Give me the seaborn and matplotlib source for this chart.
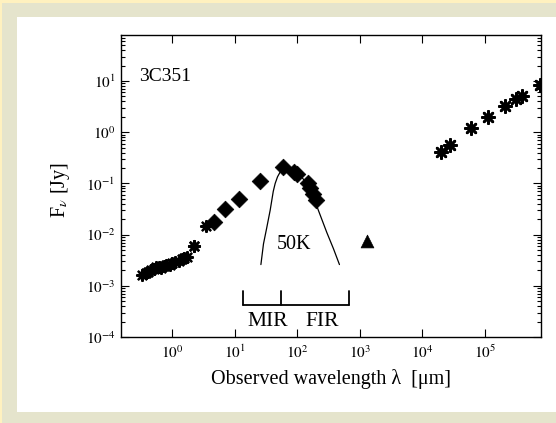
import matplotlib
matplotlib.use("Agg")
import matplotlib.pyplot as plt
import seaborn as sns
import pandas as pd
from matplotlib.patches import Rectangle
from matplotlib.ticker import LogLocator, NullLocator, FixedLocator, FixedFormatter, NullFormatter

# ---------------- data ----------------
opt_wl = [0.33, 0.37, 0.41, 0.45, 0.50, 0.55, 0.60, 0.65, 0.72, 0.80, 0.90,
          1.00, 1.10, 1.25, 1.40, 1.55, 1.70, 2.20, 2.25, 3.50]
opt_fx = [1.6e-3, 1.75e-3, 1.9e-3, 2.0e-3, 2.15e-3, 2.3e-3, 2.3e-3, 2.25e-3,
          2.4e-3, 2.5e-3, 2.6e-3, 2.8e-3, 2.9e-3, 3.1e-3, 3.3e-3, 3.5e-3,
          3.7e-3, 5.9e-3, 6.0e-3, 1.45e-2]

radio_wl = [2.0e4, 2.8e4, 6.0e4, 1.12e5, 2.1e5, 3.1e5, 3.9e5, 7.6e5]
radio_fx = [0.42, 0.57, 1.21, 2.02, 3.3, 4.5, 5.2, 8.5]

ir_wl = [4.7, 7.0, 11.4, 24.7, 58, 88, 100, 148, 160, 175, 199]
ir_fx = [0.0174, 0.031, 0.050, 0.11, 0.206, 0.17, 0.155, 0.10, 0.08, 0.062, 0.048]

mm_wl = [1290]
mm_fx = [7.4e-3]

bb_wl = [26, 28.6, 32, 36.6, 41, 44, 48, 53, 60, 70, 85, 100, 125, 150, 180, 217, 295, 377, 470]
bb_fx = [2.6e-3, 6.6e-3, 1.3e-2, 3.0e-2, 7.0e-2, 0.10, 0.135, 0.168, 0.19, 0.2, 0.19, 0.165,
         0.12, 0.085, 0.055, 0.0295, 0.011, 0.0053, 0.0026]

bracket_x = [13.4, 55, 680]
bracket_y = [7.8e-4, 4.2e-4]

ytick_vals = [1e-4, 1e-3, 1e-2, 1e-1, 1e0, 1e1]
ytick_labels = ["$10^{-4}$", "$10^{-3}$", "$10^{-2}$", "$10^{-1}$", "$10^{0}$", "$10^{1}$"]
xtick_vals = [1e0, 1e1, 1e2, 1e3, 1e4, 1e5]
xtick_labels = ["$10^{0}$", "$10^{1}$", "$10^{2}$", "$10^{3}$", "$10^{4}$", "$10^{5}$"]

# ---------------- style ----------------
sns.set_style("ticks")
plt.rcParams["font.family"] = ["Liberation Serif", "DejaVu Serif"]
plt.rcParams["mathtext.fontset"] = "stix"
plt.rcParams["text.color"] = "black"
plt.rcParams["axes.labelcolor"] = "black"
plt.rcParams["xtick.color"] = "black"
plt.rcParams["ytick.color"] = "black"
plt.rcParams["xtick.direction"] = "in"
plt.rcParams["ytick.direction"] = "in"

W, H = 556, 423
fig = plt.figure(figsize=(W / 100, H / 100), dpi=100)
fig.patch.set_facecolor("#FFF1BF")
fig.patches.append(Rectangle((2 / W, 0), 1, (H - 3.3) / H, transform=fig.transFigure,
                             facecolor="#E5E4CC", edgecolor="none", zorder=-2))
fig.patches.append(Rectangle((16.7 / W, 11 / H), 1, (412 - 16.7) / H, transform=fig.transFigure,
                             facecolor="white", edgecolor="none", zorder=-1))

ax = fig.add_axes([121 / W, (H - 337) / H, 420 / W, 302 / H])
ax.set_facecolor("none")
ax.set_xscale("log")
ax.set_yscale("log")

df_opt = pd.DataFrame({"wl": opt_wl, "fx": opt_fx})
df_rad = pd.DataFrame({"wl": radio_wl, "fx": radio_fx})
df_ir = pd.DataFrame({"wl": ir_wl, "fx": ir_fx})
df_mm = pd.DataFrame({"wl": mm_wl, "fx": mm_fx})
df_bb = pd.DataFrame({"wl": bb_wl, "fx": bb_fx})

sns.lineplot(data=df_bb, x="wl", y="fx", color="black", lw=0.9, sort=False,
             estimator=None, ax=ax, zorder=2)
sns.scatterplot(data=df_opt, x="wl", y="fx", marker=(8, 2, 0), s=60, color="black",
                linewidth=1.7, ax=ax, zorder=3)
sns.scatterplot(data=df_rad, x="wl", y="fx", marker=(8, 2, 0), s=80, color="black",
                linewidth=1.9, ax=ax, zorder=3)
sns.scatterplot(data=df_ir, x="wl", y="fx", marker="D", s=72, color="black",
                edgecolor="black", linewidth=0.5, ax=ax, zorder=3)
sns.scatterplot(data=df_mm, x="wl", y="fx", marker="^", s=85, color="black",
                edgecolor="black", linewidth=0.5, ax=ax, zorder=3)

# MIR / FIR bracket
ax.plot([bracket_x[0], bracket_x[2]], [bracket_y[1], bracket_y[1]], color="black", lw=1.3)
for bx in bracket_x:
    ax.plot([bx, bx], [bracket_y[1], bracket_y[0]], color="black", lw=1.3)

ax.text(33.4, 2.0e-4, "MIR", fontsize=15.5, ha="center", va="center", color="black")
ax.text(253, 2.0e-4, "FIR", fontsize=15.5, ha="center", va="center", color="black")
ax.text(88.6, 6.5e-3, "50K", fontsize=14.5, ha="center", va="center", color="black")
ax.text(0.044, 0.848, "3C351", fontsize=14, transform=ax.transAxes, va="baseline", color="black")

ax.set_xlim(0.15, 7.9e5)
ax.set_ylim(1e-4, 10 ** 1.9)

ax.xaxis.set_major_locator(FixedLocator(xtick_vals))
ax.xaxis.set_major_formatter(FixedFormatter(xtick_labels))
ax.xaxis.set_minor_locator(NullLocator())
ax.yaxis.set_major_locator(FixedLocator(ytick_vals))
ax.yaxis.set_major_formatter(FixedFormatter(ytick_labels))
ax.yaxis.set_minor_locator(LogLocator(base=10, subs=range(2, 10), numticks=20))
ax.yaxis.set_minor_formatter(NullFormatter())

ax.tick_params(which="both", top=True, right=True, direction="in", width=0.8,
               colors="black", labelcolor="black")
ax.tick_params(which="major", length=5.5, labelsize=11)
ax.tick_params(axis="x", which="major", pad=5)
ax.tick_params(axis="y", which="major", pad=4)
ax.tick_params(which="minor", length=3)
for sp in ax.spines.values():
    sp.set_linewidth(1.0)
    sp.set_color("black")
    sp.set_visible(True)

ax.set_xlabel("Observed wavelength λ  [μm]", fontsize=14.5, va="baseline", color="black")
ax.xaxis.set_label_coords(0.5, -0.157)
ax.set_ylabel("F$_{\\nu}$ [Jy]", fontsize=14.5, va="center", color="black")
ax.yaxis.set_label_coords(-0.145, 0.487)

fig.savefig("out.png", dpi=100, facecolor=fig.get_facecolor())
